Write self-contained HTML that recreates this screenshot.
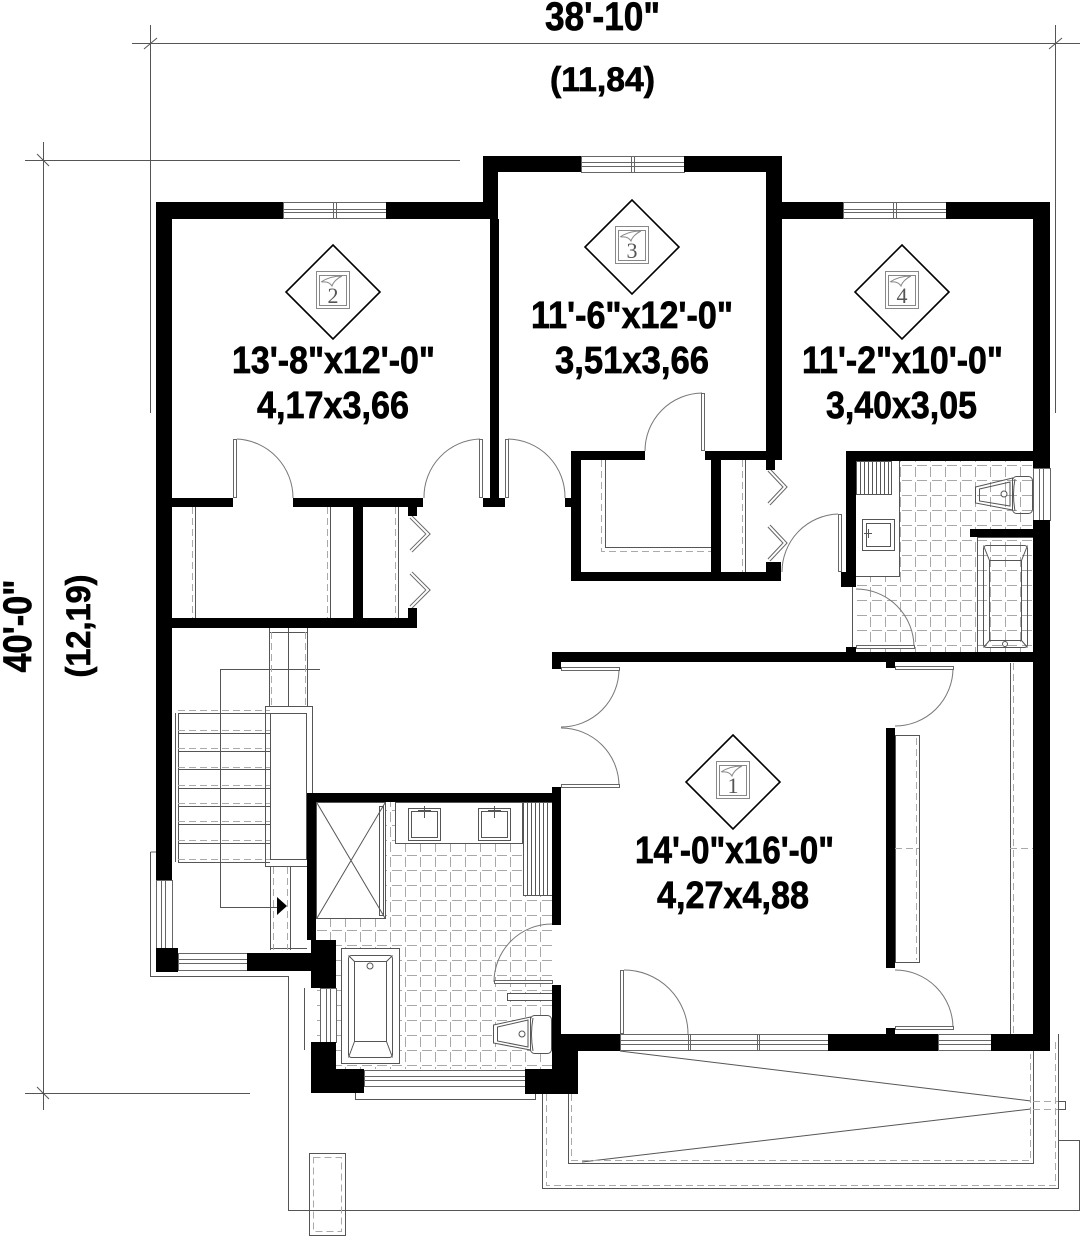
<!DOCTYPE html>
<html><head><meta charset="utf-8"><style>
html,body{margin:0;padding:0;background:#fff}
svg{display:block}
.t{font-family:"Liberation Sans Narrow","Liberation Sans",sans-serif;font-weight:bold;fill:#000;stroke:#000;stroke-width:0.7}
.n{font-family:"Liberation Serif",serif;fill:#555}
</style></head><body>
<svg width="1080" height="1236" viewBox="0 0 1080 1236" xmlns="http://www.w3.org/2000/svg">
<defs>
<pattern id="tile" patternUnits="userSpaceOnUse" width="15" height="15">
<path d="M2 0.5H12M0.5 2V12" stroke="#a8a8a8" stroke-width="1" fill="none"/>
</pattern>
</defs>
<rect width="1080" height="1236" fill="#fff"/>

<g stroke="#555" stroke-width="1" fill="none">
<line x1="132" y1="43.5" x2="1080" y2="43.5"/>
<line x1="150.5" y1="25" x2="150.5" y2="413"/>
<line x1="1055.5" y1="25" x2="1055.5" y2="413"/>
<line x1="144" y1="49" x2="157" y2="38"/>
<line x1="1049" y1="49" x2="1062" y2="38"/>
<line x1="25" y1="160.5" x2="460" y2="160.5"/>
<line x1="43.5" y1="142" x2="43.5" y2="1110"/>
<line x1="37" y1="154" x2="49" y2="166"/>
<line x1="25" y1="1093.5" x2="250" y2="1093.5"/>
<line x1="37" y1="1087" x2="49" y2="1099"/>
</g>
<text class="t" x="545" y="30" font-size="40" textLength="115" lengthAdjust="spacingAndGlyphs">38'-10"</text>
<text class="t" x="550" y="91" font-size="34" textLength="105" lengthAdjust="spacingAndGlyphs">(11,84)</text>
<text class="t" transform="translate(31,626) rotate(-90)" text-anchor="middle" font-size="40" textLength="93" lengthAdjust="spacingAndGlyphs">40'-0"</text>
<text class="t" transform="translate(90,626) rotate(-90)" text-anchor="middle" font-size="34" textLength="103" lengthAdjust="spacingAndGlyphs">(12,19)</text>

<rect x="856" y="461" width="177" height="191" fill="url(#tile)"/>
<rect x="316" y="802" width="236" height="267" fill="url(#tile)"/>
<rect x="856" y="461" width="43" height="115" fill="#fff"/>
<rect x="316" y="802" width="70" height="116" fill="#fff"/>
<rect x="395" y="802" width="157" height="41" fill="#fff"/>
<rect x="523" y="802" width="29" height="93" fill="#fff"/>

<g stroke="#555" stroke-width="1" fill="none">
<line x1="195.5" y1="507" x2="195.5" y2="618"/>
<line x1="330.5" y1="507" x2="330.5" y2="618"/>
<line x1="398.5" y1="507" x2="398.5" y2="618"/>
<path d="M605.5 460V547.5H711"/>
<line x1="745.5" y1="460" x2="745.5" y2="572"/>
<line x1="175.5" y1="713" x2="175.5" y2="862"/>
<line x1="178.5" y1="713" x2="178.5" y2="862"/>
<path d="M178 713.5H270M178 733.5H270M178 751.5H270M178 769.5H270M178 788.5H270M178 806.5H270M178 824.5H270M178 843.5H270M178 862.5H270"/>
<path d="M220.5 669V907.5H277"/>
<line x1="220" y1="669.5" x2="320" y2="669.5"/>
<rect x="265.5" y="706.5" width="47" height="160"/>
<rect x="270.5" y="713.5" width="36" height="146"/>
<line x1="313.5" y1="867" x2="313.5" y2="793"/>
<line x1="269.5" y1="628" x2="269.5" y2="706"/>
<line x1="288.5" y1="628" x2="288.5" y2="706"/>
<line x1="307.5" y1="628" x2="307.5" y2="706"/>
<line x1="269" y1="632.5" x2="307" y2="632.5"/>
<line x1="270.5" y1="867" x2="270.5" y2="950"/>
<line x1="290.5" y1="867" x2="290.5" y2="950"/>
<line x1="270" y1="948.5" x2="307" y2="948.5"/>
<path d="M150.5 852V976.5H288.5V1210.5H1079.5V1140.5H1058"/>
<path d="M304.5 988V1050"/>
<path d="M355.5 1093V1099.5H535.5V1093"/>
<rect x="309.5" y="1153.5" width="36" height="82"/>
<path d="M542.5 1094V1188.5H1058.5V1034"/>
<path d="M568.5 1094V1163.5H1033.5V1051"/>
<line x1="620" y1="1051" x2="1031" y2="1101"/>
<line x1="582" y1="1162" x2="1031" y2="1109"/>
<rect x="1058.5" y="1101.5" width="7" height="8"/>
<rect x="856.5" y="461.5" width="35" height="33"/>
<path d="M860.5 462V494M864.5 462V494M868.5 462V494M872.5 462V494M876.5 462V494M880.5 462V494M884.5 462V494M888.5 462V494"/>
<path d="M899.5 461V576.5H856"/>
<rect x="862.5" y="519.5" width="32" height="31"/>
<rect x="866.5" y="523.5" width="24" height="23"/>
<path d="M864 533.5H872M868.5 529V538"/>
<path d="M975.5 487L1012.5 478V510L975.5 503Z"/>
<path d="M979.5 489L1010 482V506L979.5 501Z"/>
<rect x="1012.5" y="476.5" width="20" height="37" rx="4"/>
<path d="M1015 479Q1012 494 1015 511"/>
<circle cx="1004" cy="494" r="3"/>
<rect x="977.5" y="537.5" width="56" height="115"/>
<rect x="983.5" y="545.5" width="44" height="102" rx="3"/>
<rect x="989.5" y="560.5" width="32" height="80"/>
<path d="M983.5 545.5L989.5 560.5M1027.5 545.5L1021.5 560.5M983.5 647.5L989.5 640.5M1027.5 647.5L1021.5 640.5"/>
<circle cx="1005" cy="644" r="2.5"/>
<line x1="852.5" y1="587" x2="852.5" y2="647"/>
<rect x="316.5" y="802.5" width="69" height="116"/>
<path d="M317 803L385 918M385 803L317 918"/>
<rect x="379.5" y="806.5" width="4" height="109"/>
<rect x="395.5" y="802.5" width="127" height="41"/>
<rect x="408.5" y="808.5" width="32" height="32"/>
<rect x="411.5" y="811.5" width="26" height="26"/>
<path d="M424.5 806V818M418 810.5H431"/>
<rect x="478.5" y="808.5" width="32" height="32"/>
<rect x="481.5" y="811.5" width="26" height="26"/>
<path d="M494.5 806V818M488 810.5H501"/>
<rect x="523.5" y="802.5" width="29" height="93"/>
<path d="M527.5 803V895M531.5 803V895M535.5 803V895M539.5 803V895M543.5 803V895M547.5 803V895"/>
<rect x="341.5" y="948.5" width="58" height="115" fill="#fff"/>
<rect x="348.5" y="955.5" width="44" height="102" rx="3"/>
<rect x="354.5" y="961.5" width="32" height="80"/>
<path d="M348.5 1057.5L354.5 1041.5M392.5 1057.5L386.5 1041.5M348.5 955.5L354.5 961.5M392.5 955.5L386.5 961.5"/>
<circle cx="370" cy="966" r="3"/>
<path d="M493.5 1025L530.5 1017V1050L493.5 1043Z" fill="#fff"/>
<path d="M497.5 1027L528 1020V1047L497.5 1041Z"/>
<rect x="530.5" y="1015.5" width="21" height="38" rx="4" fill="#fff"/>
<path d="M533 1018Q530 1034 533 1051"/>
<circle cx="522" cy="1034" r="3"/>
<rect x="507.5" y="993.5" width="45" height="7" fill="#fff"/>
<rect x="895.5" y="735.5" width="24" height="227"/>
<line x1="1010.5" y1="663" x2="1010.5" y2="1034"/>
</g>
<g stroke="#aaa" stroke-width="1" fill="none" stroke-dasharray="7 4">
<line x1="192.5" y1="507" x2="192.5" y2="618"/>
<line x1="327.5" y1="507" x2="327.5" y2="618"/>
<line x1="395.5" y1="507" x2="395.5" y2="618"/>
<path d="M601.5 460V551.5H711"/>
<line x1="742.5" y1="460" x2="742.5" y2="572"/>
<path d="M178 710.5H270M178 730.5H270M178 748.5H270M178 767.5H270M178 785.5H270M178 803.5H270M178 821.5H270M178 840.5H270M178 859.5H270"/>
<line x1="271.5" y1="632" x2="271.5" y2="706"/>
<line x1="305.5" y1="632" x2="305.5" y2="706"/>
<line x1="273.5" y1="867" x2="273.5" y2="950"/>
<line x1="287.5" y1="867" x2="287.5" y2="950"/>
<path d="M546.5 1094V1185.5H1055.5V1040"/>
<path d="M571.5 1094V1160.5H1030.5V1054"/>
<path d="M1033 1101.5H1058M1033 1109.5H1058"/>
<rect x="313.5" y="1157.5" width="28" height="74"/>
<line x1="916.5" y1="738" x2="916.5" y2="960"/>
<line x1="895" y1="848.5" x2="919" y2="848.5"/>
<line x1="1013.5" y1="663" x2="1013.5" y2="1034"/>
<line x1="1010" y1="848.5" x2="1033" y2="848.5"/>
</g>

<path d="M277 897L287 906L277 915Z" fill="#000"/>

<g stroke="#777" stroke-width="1" fill="none">
<path d="M237 439A59 59 0 0 1 293 498"/>
<path d="M480 439A58 58 0 0 0 424 498"/>
<path d="M508 439A58 58 0 0 1 565 498"/>
<path d="M702 393A58 58 0 0 0 645 451"/>
<path d="M838 514A58 58 0 0 0 782 572"/>
<path d="M914 647A58 58 0 0 0 856 589"/>
<path d="M619 669A58 58 0 0 1 561 727"/>
<path d="M619 786A58 58 0 0 0 561 728"/>
<path d="M953 668A58 58 0 0 1 895 726"/>
<path d="M953 1028A58 58 0 0 0 895 970"/>
<path d="M624 970A64 64 0 0 1 688 1034"/>
<path d="M494 982A58 58 0 0 1 552 924"/>
</g>
<g stroke="#666" stroke-width="1" fill="#fff">
<rect x="233.5" y="439.5" width="3" height="58"/>
<rect x="479.5" y="439.5" width="3" height="58"/>
<rect x="505.5" y="439.5" width="3" height="58"/>
<rect x="701.5" y="393.5" width="3" height="57"/>
<rect x="838.5" y="514.5" width="3" height="57"/>
<rect x="856.5" y="645.5" width="58" height="3"/>
<rect x="561.5" y="667.5" width="58" height="3"/>
<rect x="561.5" y="784.5" width="58" height="3"/>
<rect x="895.5" y="666.5" width="58" height="3"/>
<rect x="895.5" y="1026.5" width="58" height="3"/>
<rect x="620.5" y="970.5" width="3" height="63"/>
<rect x="494.5" y="980.5" width="58" height="3"/>
</g>
<g fill="none" stroke-linejoin="miter">
<g stroke="#666" stroke-width="4">
<polyline points="411,517 428,534 411,551"/>
<polyline points="411,573 428,590 411,607"/>
<polyline points="769,470 785,487 769,504"/>
<polyline points="769,526 785,543 769,560"/>
</g>
<g stroke="#fff" stroke-width="2">
<polyline points="411,517 428,534 411,551"/>
<polyline points="411,573 428,590 411,607"/>
<polyline points="769,470 785,487 769,504"/>
<polyline points="769,526 785,543 769,560"/>
</g>
</g>

<g stroke="#666" stroke-width="1" fill="#fff">
<rect x="283.5" y="202.5" width="103" height="16"/>
<path d="M283 209.5H386M283 212.5H386M333.5 203V218M336.5 203V218" fill="none"/>
<rect x="581.5" y="156.5" width="103" height="16"/>
<path d="M581 162.5H684M581 166.5H684M631.5 157V172M634.5 157V172" fill="none"/>
<rect x="843.5" y="202.5" width="103" height="16"/>
<path d="M843 209.5H946M843 212.5H946M893.5 203V218M896.5 203V218" fill="none"/>
<rect x="178.5" y="953.5" width="69" height="17"/>
<path d="M178 959.5H247M178 963.5H247" fill="none"/>
<rect x="364.5" y="1070.5" width="161" height="16"/>
<path d="M364 1076.5H525M364 1080.5H525" fill="none"/>
<rect x="620.5" y="1034.5" width="208" height="16"/>
<path d="M620 1040.5H828M620 1044.5H828M688.5 1035V1050M690.5 1035V1050M757.5 1035V1050M759.5 1035V1050" fill="none"/>
<rect x="938.5" y="1034.5" width="53" height="16"/>
<path d="M938 1040.5H991M938 1044.5H991" fill="none"/>
<rect x="1033.5" y="468.5" width="17" height="52"/>
<path d="M1039.5 468V520M1043.5 468V520" fill="none"/>
<rect x="156.5" y="880.5" width="16" height="68"/>
<path d="M161.5 880V948M165.5 880V948M150.5 852H156" fill="none"/>
<rect x="320.5" y="988.5" width="16" height="54"/>
<path d="M326.5 988V1042M330.5 988V1042" fill="none"/>
</g>

<g fill="#000">
<rect x="156" y="202" width="127" height="17"/>
<rect x="386" y="202" width="112" height="17"/>
<rect x="483" y="156" width="15" height="63"/>
<rect x="483" y="156" width="98" height="16"/>
<rect x="684" y="156" width="98" height="16"/>
<rect x="766" y="156" width="16" height="304"/>
<rect x="766" y="460" width="9" height="10"/>
<rect x="766" y="202" width="77" height="17"/>
<rect x="946" y="202" width="104" height="17"/>
<rect x="1033" y="202" width="17" height="266"/>
<rect x="1033" y="520" width="17" height="531"/>
<rect x="156" y="202" width="16" height="678"/>
<rect x="490" y="219" width="9" height="279"/>
<rect x="483" y="498" width="22" height="9"/>
<rect x="156" y="498" width="77" height="9"/>
<rect x="293" y="498" width="130" height="9"/>
<rect x="408" y="507" width="9" height="9"/>
<rect x="353" y="507" width="10" height="111"/>
<rect x="156" y="618" width="261" height="10"/>
<rect x="408" y="608" width="9" height="10"/>
<rect x="565" y="498" width="6" height="9"/>
<rect x="571" y="451" width="10" height="130"/>
<rect x="571" y="451" width="74" height="9"/>
<rect x="705" y="451" width="70" height="9"/>
<rect x="711" y="451" width="10" height="130"/>
<rect x="571" y="572" width="210" height="9"/>
<rect x="766" y="562" width="15" height="19"/>
<rect x="846" y="451" width="204" height="10"/>
<rect x="846" y="451" width="10" height="136"/>
<rect x="841" y="572" width="15" height="15"/>
<rect x="846" y="647" width="10" height="6"/>
<rect x="970" y="529" width="70" height="8"/>
<rect x="552" y="652" width="498" height="10"/>
<rect x="552" y="652" width="9" height="17"/>
<rect x="886" y="662" width="9" height="6"/>
<rect x="886" y="728" width="9" height="240"/>
<rect x="886" y="1028" width="9" height="6"/>
<rect x="552" y="1034" width="68" height="17"/>
<rect x="828" y="1034" width="110" height="17"/>
<rect x="991" y="1034" width="59" height="17"/>
<rect x="552" y="787" width="9" height="138"/>
<rect x="552" y="985" width="9" height="50"/>
<rect x="552" y="1034" width="26" height="60"/>
<rect x="525" y="1069" width="53" height="25"/>
<rect x="307" y="793" width="253" height="9"/>
<rect x="307" y="793" width="9" height="147"/>
<rect x="311" y="940" width="25" height="48"/>
<rect x="311" y="1042" width="25" height="51"/>
<rect x="311" y="1069" width="53" height="24"/>
<rect x="247" y="953" width="89" height="18"/>
<rect x="156" y="948" width="22" height="24"/>
</g>

<g stroke="#000" stroke-width="1.6" fill="#fff">
<path d="M333 245L380 292L333 339L286 292Z"/>
<path d="M632 200L679 247L632 294L585 247Z"/>
<path d="M902 245L949 292L902 339L855 292Z"/>
<path d="M733 735L780 782L733 829L686 782Z"/>
</g>
<g stroke="#888" stroke-width="1" fill="none">
<rect x="316.5" y="271.5" width="33" height="37"/><rect x="319.5" y="275.5" width="27" height="30"/>
<path d="M321 282Q330 276 342 276M322 282Q329 281 332 286Q334 280 342 276"/>
<rect x="615.5" y="226.5" width="33" height="37"/><rect x="618.5" y="230.5" width="27" height="30"/>
<path d="M620 237Q629 231 641 231M621 237Q628 236 631 241Q633 235 641 231"/>
<rect x="885.5" y="271.5" width="33" height="37"/><rect x="888.5" y="275.5" width="27" height="30"/>
<path d="M890 282Q899 276 911 276M891 282Q898 281 901 286Q903 280 911 276"/>
<rect x="716.5" y="761.5" width="33" height="37"/><rect x="719.5" y="765.5" width="27" height="30"/>
<path d="M721 772Q730 766 742 766M722 772Q729 771 732 776Q734 770 742 766"/>
</g>
<text class="n" x="333" y="303" font-size="22" text-anchor="middle">2</text>
<text class="n" x="632" y="258" font-size="22" text-anchor="middle">3</text>
<text class="n" x="902" y="303" font-size="22" text-anchor="middle">4</text>
<text class="n" x="733" y="793" font-size="22" text-anchor="middle">1</text>

<text class="t" x="232" y="373" font-size="38" textLength="203" lengthAdjust="spacingAndGlyphs">13'-8"x12'-0"</text>
<text class="t" x="257" y="418" font-size="38" textLength="152" lengthAdjust="spacingAndGlyphs">4,17x3,66</text>
<text class="t" x="531" y="328" font-size="38" textLength="202" lengthAdjust="spacingAndGlyphs">11'-6"x12'-0"</text>
<text class="t" x="555" y="373" font-size="38" textLength="154" lengthAdjust="spacingAndGlyphs">3,51x3,66</text>
<text class="t" x="802" y="373" font-size="38" textLength="201" lengthAdjust="spacingAndGlyphs">11'-2"x10'-0"</text>
<text class="t" x="826" y="418" font-size="38" textLength="151" lengthAdjust="spacingAndGlyphs">3,40x3,05</text>
<text class="t" x="635" y="863" font-size="38" textLength="199" lengthAdjust="spacingAndGlyphs">14'-0"x16'-0"</text>
<text class="t" x="657" y="908" font-size="38" textLength="152" lengthAdjust="spacingAndGlyphs">4,27x4,88</text>
</svg>
</body></html>
